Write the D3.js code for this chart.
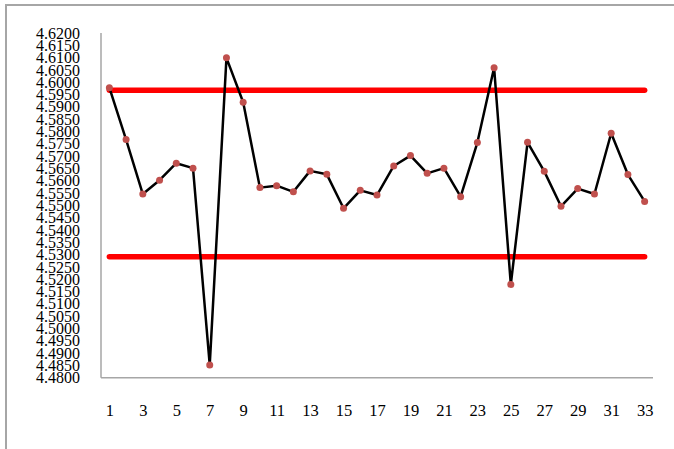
<!DOCTYPE html>
<html>
<head>
<meta charset="utf-8">
<script src="https://cdn.jsdelivr.net/npm/d3@7"></script>
<style>
  html, body { margin: 0; padding: 0; background: #fff; }
  svg { display: block; }
</style>
</head>
<body>
<svg id="chart" width="674" height="449"></svg>
<script>
const samples = [1,2,3,4,5,6,7,8,9,10,11,12,13,14,15,16,17,18,19,20,21,22,23,24,25,26,27,28,29,30,31,32,33];
const values = [4.5978,4.5767,4.5546,4.5602,4.5671,4.5651,4.4852,4.6099,4.5919,4.5572,4.5580,4.5555,4.5640,4.5626,4.5488,4.5561,4.5542,4.5660,4.5702,4.5630,4.5651,4.5535,4.5755,4.6059,4.5179,4.5756,4.5638,4.5496,4.5568,4.5546,4.5793,4.5625,4.5516];
const ucl = 4.5967;
const lcl = 4.5291;
const yTicks = d3.range(0, 29).map(i => +(4.48 + i * 0.005).toFixed(4));
const xTickLabels = samples.filter(d => d % 2 === 1);

(function () {
const svg = d3.select("#chart");
const pLeft = 101, pRight = 653, pTop = 33, pBottom = 377.7;

// outer frame
svg.append("rect").attr("x", 6).attr("y", 5).attr("width", 700).attr("height", 500)
  .attr("fill", "none").attr("stroke", "#a6a6a6").attr("stroke-width", 2);

const x = d3.scalePoint().domain(samples).range([pLeft, pRight]).padding(0.5);
const y = d3.scaleLinear().domain([4.48, 4.62]).range([pBottom, pTop]);

// y labels
const yAxis = d3.axisLeft(y).tickValues(yTicks).tickFormat(d3.format(".4f")).tickSize(0).tickPadding(0);
const gy = svg.append("g").attr("transform", `translate(80,0)`).call(yAxis);
gy.select(".domain").remove();
gy.selectAll("text").attr("font-family", "'Liberation Serif', 'Times New Roman', serif")
  .attr("font-size", 16).attr("fill", "#000").attr("dy", "0.32em");

// x labels
const xAxis = d3.axisBottom(x).tickValues(xTickLabels).tickSize(0).tickPadding(0);
const gx = svg.append("g").attr("transform", `translate(0,405)`).call(xAxis);
gx.select(".domain").remove();
gx.selectAll("text").attr("font-family", "'Liberation Serif', 'Times New Roman', serif")
  .attr("font-size", 16.5).attr("fill", "#000").attr("dy", "0.68em");

// axis lines
svg.append("line").attr("x1", pLeft).attr("x2", pLeft).attr("y1", pTop).attr("y2", pBottom)
  .attr("stroke", "#a6a6a6").attr("stroke-width", 1.5);
svg.append("line").attr("x1", pLeft).attr("x2", pRight).attr("y1", pBottom).attr("y2", pBottom)
  .attr("stroke", "#a6a6a6").attr("stroke-width", 1.5);

// control limits
[ucl, lcl].forEach(v => {
  svg.append("line")
    .attr("x1", x(samples[0])).attr("x2", x(samples[samples.length - 1]))
    .attr("y1", y(v)).attr("y2", y(v))
    .attr("stroke", "#ff0000").attr("stroke-width", 5.5).attr("stroke-linecap", "round");
});

// data line
const line = d3.line().x((d, i) => x(samples[i])).y(d => y(d));
svg.append("path").datum(values).attr("d", line)
  .attr("fill", "none").attr("stroke", "#000").attr("stroke-width", 2.5).attr("stroke-linejoin", "round");

svg.selectAll("circle.pt").data(values).enter().append("circle")
  .attr("class", "pt")
  .attr("cx", (d, i) => x(samples[i])).attr("cy", d => y(d)).attr("r", 3.5)
  .attr("fill", "#c0504d");
})();
</script>
</body>
</html>
